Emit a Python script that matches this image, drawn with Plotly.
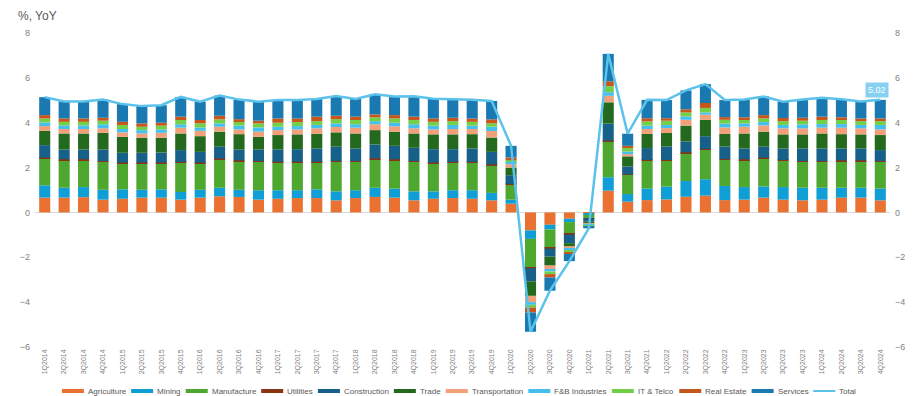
import plotly.graph_objects as go

quarters = ["1Q2014","2Q2014","3Q2014","4Q2014","1Q2015","2Q2015","3Q2015","4Q2015",
            "1Q2016","2Q2016","3Q2016","4Q2016","1Q2017","2Q2017","3Q2017","4Q2017",
            "1Q2018","2Q2018","3Q2018","4Q2018","1Q2019","2Q2019","3Q2019","4Q2019",
            "1Q2020","2Q2020","3Q2020","4Q2020","1Q2021","2Q2021","3Q2021","4Q2021",
            "1Q2022","2Q2022","3Q2022","4Q2022","1Q2023","2Q2023","3Q2023","4Q2023",
            "1Q2024","2Q2024","3Q2024","4Q2024"]

agriculture = [0.66,0.66,0.68,0.57,0.61,0.66,0.66,0.57,0.66,0.72,0.69,0.57,0.61,0.64,0.64,0.54,0.64,0.69,0.66,0.54,0.61,0.64,0.61,0.54,0.39,-0.80,-0.55,-0.28,-0.05,0.97,0.48,0.55,0.58,0.70,0.75,0.55,0.57,0.66,0.57,0.54,0.57,0.66,0.66,0.54]
mining = [0.55,0.44,0.45,0.44,0.42,0.35,0.37,0.34,0.35,0.38,0.32,0.42,0.38,0.35,0.39,0.40,0.35,0.41,0.40,0.40,0.33,0.35,0.38,0.33,0.18,-0.38,-0.21,-0.15,-0.05,0.60,0.34,0.52,0.57,0.70,0.73,0.63,0.56,0.50,0.56,0.56,0.53,0.44,0.44,0.52]
manufacture = [1.19,1.23,1.20,1.24,1.15,1.17,1.15,1.30,1.17,1.26,1.27,1.26,1.23,1.23,1.19,1.31,1.26,1.27,1.27,1.31,1.24,1.22,1.22,1.23,0.67,-1.27,-0.82,-0.53,-0.15,1.59,0.85,1.23,1.15,1.24,1.31,1.16,1.20,1.24,1.17,1.15,1.15,1.18,1.18,1.19]
utilities = [0.04,0.04,0.04,0.04,0.04,0.04,0.04,0.04,0.04,0.04,0.04,0.04,0.04,0.04,0.04,0.04,0.04,0.04,0.04,0.04,0.04,0.04,0.04,0.04,0.03,-0.04,-0.03,-0.03,-0.01,0.04,0.03,0.04,0.04,0.04,0.04,0.04,0.04,0.04,0.04,0.04,0.04,0.04,0.04,0.04]
construction = [0.56,0.43,0.43,0.51,0.44,0.44,0.45,0.53,0.48,0.53,0.48,0.51,0.55,0.56,0.59,0.64,0.56,0.62,0.60,0.59,0.60,0.57,0.60,0.56,0.39,-0.58,-0.36,-0.38,-0.14,0.76,0.35,0.53,0.60,0.48,0.57,0.56,0.48,0.49,0.51,0.56,0.56,0.53,0.53,0.49]
trade = [0.64,0.72,0.72,0.75,0.71,0.67,0.66,0.74,0.70,0.67,0.69,0.57,0.64,0.66,0.66,0.64,0.67,0.64,0.63,0.64,0.66,0.66,0.64,0.64,0.34,-0.65,-0.40,-0.15,-0.10,0.95,0.45,0.63,0.60,0.71,0.73,0.56,0.67,0.67,0.63,0.63,0.67,0.64,0.63,0.67]
transportation = [0.21,0.20,0.20,0.20,0.20,0.19,0.22,0.26,0.24,0.22,0.21,0.23,0.22,0.22,0.24,0.24,0.26,0.26,0.24,0.23,0.22,0.24,0.23,0.29,0.15,-0.28,-0.15,-0.11,-0.05,0.29,0.10,0.22,0.22,0.26,0.23,0.29,0.30,0.28,0.27,0.27,0.26,0.29,0.27,0.25]
fnb_industries = [0.16,0.16,0.16,0.18,0.15,0.15,0.15,0.15,0.15,0.15,0.17,0.19,0.15,0.15,0.15,0.16,0.15,0.14,0.16,0.18,0.17,0.18,0.15,0.19,0.10,-0.12,-0.11,-0.07,-0.03,0.16,0.12,0.15,0.14,0.15,0.10,0.17,0.15,0.15,0.15,0.18,0.16,0.16,0.15,0.20]
it_telco = [0.18,0.16,0.16,0.16,0.18,0.15,0.17,0.19,0.18,0.18,0.16,0.18,0.18,0.18,0.17,0.19,0.19,0.17,0.19,0.19,0.17,0.17,0.17,0.15,0.08,-0.12,-0.12,-0.08,-0.03,0.27,0.15,0.19,0.19,0.18,0.20,0.17,0.15,0.16,0.17,0.16,0.18,0.18,0.17,0.17]
real_estate = [0.15,0.15,0.15,0.13,0.14,0.15,0.13,0.15,0.15,0.16,0.13,0.12,0.19,0.16,0.20,0.15,0.15,0.13,0.15,0.15,0.15,0.15,0.15,0.18,0.12,-0.22,-0.15,-0.07,-0.03,0.22,0.10,0.14,0.11,0.14,0.22,0.12,0.12,0.15,0.14,0.13,0.15,0.12,0.12,0.12]
services = [0.80,0.76,0.76,0.81,0.79,0.77,0.78,0.88,0.82,0.90,0.87,0.85,0.82,0.82,0.79,0.88,0.79,0.90,0.83,0.91,0.88,0.83,0.83,0.82,0.52,-0.86,-0.59,-0.32,-0.07,1.22,0.54,0.82,0.81,0.84,0.84,0.76,0.80,0.83,0.73,0.82,0.84,0.81,0.76,0.83]
total = [5.14,4.95,4.95,5.03,4.83,4.74,4.78,5.15,4.94,5.21,5.03,4.94,5.01,5.01,5.06,5.19,5.06,5.27,5.17,5.18,5.07,5.05,5.02,4.97,2.97,-5.32,-3.49,-2.17,-0.71,7.07,3.51,5.02,5.01,5.44,5.72,5.01,5.04,5.17,4.94,5.04,5.11,5.05,4.95,5.02]

y_ticks = [-6, -4, -2, 0, 2, 4, 6, 8]

series = [
    ("Agriculture", agriculture, "#E97132"),
    ("Mining", mining, "#0F9ED5"),
    ("Manufacture", manufacture, "#4EA72E"),
    ("Utilities", utilities, "#8B3413"),
    ("Construction", construction, "#17608A"),
    ("Trade", trade, "#236A1F"),
    ("Transportation", transportation, "#F1A07A"),
    ("F&B Industries", fnb_industries, "#45C0EE"),
    ("IT & Telco", it_telco, "#72CF48"),
    ("Real Estate", real_estate, "#C5561C"),
    ("Services", services, "#1979B0"),
]
total_color = "#5BC2EC"

# page body has an 8px default margin: the figure starts at (8, 8) in the window
OFF = 8
WIN_W, WIN_H = 913, 396
W, H = WIN_W - OFF, WIN_H - OFF
L, R, T, B = 35 - OFF, 23, 33 - OFF, 49
PW, PH = W - L - R, H - T - B

def px_x(px):
    return (px - OFF - L) / PW

def px_y(py):
    return (H - B - (py - OFF)) / PH

# approximate Arial advance widths (per 1000 em) for legend layout
CHAR_W = {" ": 278, "&": 667, "A": 667, "B": 667, "C": 722, "E": 667, "F": 611, "I": 278,
          "M": 833, "R": 722, "S": 667, "T": 611, "U": 722, "a": 556, "c": 500, "d": 556,
          "e": 556, "f": 278, "g": 556, "i": 222, "l": 222, "n": 556, "o": 556, "p": 556,
          "r": 333, "s": 500, "t": 278, "u": 556, "v": 500}
LEG_FONT = 8

def text_w(s):
    return sum(CHAR_W.get(ch, 556) for ch in s) * LEG_FONT / 1000.0

fig = go.Figure()
for name, vals, col in series:
    fig.add_bar(x=quarters, y=vals, name=name, marker=dict(color=col, line=dict(width=0)),
                showlegend=False)
fig.add_scatter(x=quarters, y=total, name="Total", mode="lines",
                line=dict(color=total_color, width=2.5), yaxis="y2", showlegend=False)

# manual legend (Excel-style wide swatches), laid out sequentially and centred
names = [s[0] for s in series] + ["Total"]
colors = [s[2] for s in series] + [total_color]
SW, SG, IG = 22, 3, 6
widths = [SW + SG + text_w(n) for n in names]
span = sum(widths) + IG * (len(names) - 1)
center_px = 459
legend_y = 391
x_cur = center_px - span / 2
shapes = []
annotations = []
for nm, col, w in zip(names, colors, widths):
    if nm == "Total":
        shapes.append(dict(type="line", xref="paper", yref="paper",
                           x0=px_x(x_cur), x1=px_x(x_cur + SW), y0=px_y(legend_y), y1=px_y(legend_y),
                           line=dict(color=col, width=2)))
    else:
        shapes.append(dict(type="rect", xref="paper", yref="paper",
                           x0=px_x(x_cur), x1=px_x(x_cur + SW), y0=px_y(legend_y + 2), y1=px_y(legend_y - 2),
                           fillcolor=col, line=dict(width=0)))
    annotations.append(dict(xref="paper", yref="paper", x=px_x(x_cur + SW + SG), y=px_y(legend_y),
                            text=nm, showarrow=False, xanchor="left", yanchor="middle",
                            borderpad=0, font=dict(size=LEG_FONT, color="#595959")))
    x_cur += w + IG

annotations.append(dict(x=quarters[-1], y=total[-1], xref="x", yref="y2",
                        text=f"{total[-1]:.2f}", showarrow=False, yshift=10, xshift=-3,
                        bgcolor="#86D1F1", borderpad=2,
                        font=dict(size=9, color="white")))

fig.update_layout(
    width=W, height=H,
    margin=dict(l=L, r=R, t=T, b=B, autoexpand=False),
    barmode="relative", bargap=0.43,
    plot_bgcolor="white", paper_bgcolor="white",
    font=dict(family="Liberation Sans, Arial, sans-serif", color="#595959"),
    title=dict(text="%, YoY", x=(18 - OFF) / W, xref="container", xanchor="left",
               y=1 - (16 - OFF) / H, yref="container", yanchor="middle",
               font=dict(size=12, color="#595959")),
    xaxis=dict(type="category", tickangle=-90, tickfont=dict(size=7, color="#7F7F7F"),
               showgrid=False, showline=False, ticks="", zeroline=False, automargin=False),
    yaxis=dict(range=[-6, 8], tickvals=y_ticks, showgrid=False, zeroline=True,
               zerolinecolor="#D9D9D9", zerolinewidth=1, ticks="", automargin=False,
               tickfont=dict(size=9, color="#7F7F7F"), ticklabelstandoff=4),
    yaxis2=dict(range=[-6, 8], tickvals=y_ticks, overlaying="y", side="right",
                showgrid=False, zeroline=False, ticks="", automargin=False,
                tickfont=dict(size=9, color="#7F7F7F"), ticklabelstandoff=4),
    shapes=shapes,
    annotations=annotations,
)

fig.write_html("out.html")
